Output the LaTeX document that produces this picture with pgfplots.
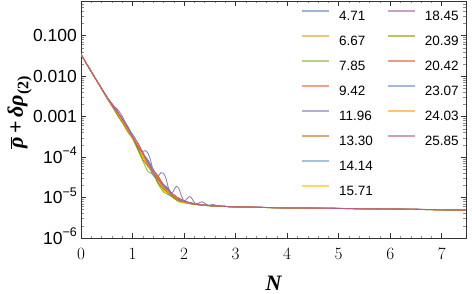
\documentclass[border=0pt]{standalone}
\usepackage{pgfplots}
\pgfplotsset{compat=1.18}
\usepackage{pgfplotstable}
\usepackage{fontspec}
\setmainfont{Liberation Sans}
\newfontfamily\lserif{Liberation Serif}
\definecolor{c1}{HTML}{5E81B5}
\definecolor{c2}{HTML}{E19C24}
\definecolor{c3}{HTML}{8FB032}
\definecolor{c4}{HTML}{EB6235}
\definecolor{c5}{HTML}{8778B3}
\definecolor{c6}{HTML}{C56E1A}
\definecolor{c7}{HTML}{5D9EC7}
\definecolor{c8}{HTML}{FFBF00}
\definecolor{c9}{HTML}{A5609D}
\definecolor{c10}{HTML}{929600}
\definecolor{c11}{HTML}{E95536}
\definecolor{c12}{HTML}{6685D9}
\definecolor{c13}{HTML}{F89F13}
\definecolor{c14}{HTML}{BC5B80}
\pgfplotstableread{
N s1 s2 s3 s4 s6 s7 s8 s9 s10 s11 s12 s13 s14
0.0 3.5e-2 3.5e-2 3.5e-2 3.5e-2 3.5e-2 3.5e-2 3.5e-2 3.5e-2 3.5e-2 3.5e-2 3.5e-2 3.5e-2 3.5e-2
0.1 2.1e-2 2.1e-2 2.1e-2 2.1e-2 2.1e-2 2.1e-2 2.1e-2 2.1e-2 2.1e-2 2.1e-2 2.1e-2 2.1e-2 2.1e-2
0.2 1.29e-2 1.29e-2 1.29e-2 1.29e-2 1.29e-2 1.29e-2 1.29e-2 1.29e-2 1.29e-2 1.29e-2 1.29e-2 1.29e-2 1.29e-2
0.3 7.94e-3 7.94e-3 7.94e-3 7.94e-3 7.94e-3 7.94e-3 7.94e-3 7.94e-3 7.94e-3 7.94e-3 7.94e-3 7.94e-3 7.94e-3
0.4 4.9e-3 4.85e-3 4.8e-3 4.95e-3 4.9e-3 4.85e-3 4.85e-3 5.0e-3 4.8e-3 4.95e-3 4.95e-3 4.9e-3 4.95e-3
0.5 3.02e-3 2.98e-3 2.9e-3 3.08e-3 3.02e-3 2.95e-3 2.98e-3 3.15e-3 2.92e-3 3.05e-3 3.05e-3 3.02e-3 3.08e-3
0.6 2.0e-3 1.905e-3 1.81e-3 2.0e-3 1.905e-3 1.87e-3 1.905e-3 2.10e-3 1.85e-3 2.0e-3 1.94e-3 1.905e-3 1.96e-3
0.7 1.35e-3 1.17e-3 1.11e-3 1.29e-3 1.23e-3 1.13e-3 1.19e-3 1.41e-3 1.17e-3 1.35e-3 1.29e-3 1.25e-3 1.33e-3
0.8 7.94e-4 7.54e-4 7.15e-4 8.73e-4 8.34e-4 7.54e-4 7.94e-4 8.73e-4 7.15e-4 8.34e-4 9.13e-4 7.94e-4 8.89e-4
0.9 4.6e-4 5.26e-4 4.26e-4 5.01e-4 5.51e-4 5.01e-4 4.76e-4 5.26e-4 4.76e-4 4.76e-4 6.01e-4 4.86e-4 5.51e-4
1.0 3.16e-4 3.48e-4 2.84e-4 3.0e-4 3.32e-4 2.91e-4 3.0e-4 3.48e-4 3.16e-4 3.16e-4 3.48e-4 3.32e-4 3.16e-4
1.1 2.1e-4 1.81e-4 1.52e-4 2.0e-4 1.71e-4 1.71e-4 1.905e-4 2.10e-4 1.62e-4 2.29e-4 1.905e-4 2.0e-4 1.81e-4
1.2 1.09e-4 9.8e-5 8.05e-5 1.32e-4 1.09e-4 1.15e-4 1.01e-4 1.21e-4 8.63e-5 1.27e-4 1.21e-4 1.09e-4 1.27e-4
1.3 6.0e-5 7.08e-5 4.39e-5 6.73e-5 8.14e-5 6.37e-5 5.66e-5 7.79e-5 6.02e-5 6.37e-5 8.50e-5 6.73e-5 7.43e-5
1.4 4.8e-5 5.03e-5 3.71e-5 3.93e-5 4.59e-5 3.50e-5 4.15e-5 5.03e-5 4.15e-5 4.59e-5 4.81e-5 4.37e-5 4.15e-5
1.5 3.24e-5 2.82e-5 2.12e-5 3.24e-5 2.40e-5 2.68e-5 2.54e-5 2.96e-5 2.26e-5 3.38e-5 2.68e-5 2.96e-5 2.82e-5
1.6 1.71e-5 1.62e-5 1.37e-5 2.10e-5 1.905e-5 1.81e-5 1.52e-5 2.10e-5 1.62e-5 1.905e-5 2.10e-5 1.81e-5 2.0e-5
1.7 1.24e-5 1.38e-5 1.17e-5 1.27e-5 1.59e-5 1.17e-5 1.24e-5 1.55e-5 1.31e-5 1.31e-5 1.66e-5 1.34e-5 1.45e-5
1.8 1.18e-5 1.18e-5 9.63e-6 1.07e-5 1.02e-5 1.02e-5 1.02e-5 1.12e-5 9.63e-6 1.18e-5 1.07e-5 1.10e-5 1.05e-5
1.9 9.36e-6 8.64e-6 7.84e-6 9.62e-6 8.20e-6 8.91e-6 8.02e-6 9.62e-6 8.20e-6 9.36e-6 8.73e-6 9.09e-6 8.91e-6
2.0 7.54e-6 7.54e-6 7.38e-6 7.94e-6 8.34e-6 7.54e-6 7.38e-6 8.34e-6 7.70e-6 7.78e-6 8.42e-6 7.78e-6 8.10e-6
2.1 7.55e-6 7.48e-6 7.11e-6 7.18e-6 7.48e-6 7.11e-6 7.11e-6 7.55e-6 7.11e-6 7.48e-6 7.55e-6 7.33e-6 7.40e-6
2.2 7.06e-6 7.06e-6 6.71e-6 7.06e-6 6.78e-6 6.92e-6 6.78e-6 7.06e-6 6.78e-6 7.06e-6 6.92e-6 6.92e-6 6.92e-6
2.3 6.61e-6 6.61e-6 6.55e-6 6.75e-6 6.68e-6 6.61e-6 6.55e-6 6.81e-6 6.61e-6 6.68e-6 6.75e-6 6.68e-6 6.68e-6
2.4 6.46e-6 6.40e-6 6.40e-6 6.46e-6 6.52e-6 6.40e-6 6.40e-6 6.52e-6 6.40e-6 6.46e-6 6.52e-6 6.46e-6 6.46e-6
2.5 6.31e-6 6.31e-6 6.25e-6 6.31e-6 6.31e-6 6.25e-6 6.25e-6 6.37e-6 6.25e-6 6.31e-6 6.31e-6 6.31e-6 6.31e-6
2.7 6.10e-6 6.10e-6 6.06e-6 6.12e-6 6.10e-6 6.06e-6 6.06e-6 6.15e-6 6.06e-6 6.10e-6 6.12e-6 6.10e-6 6.10e-6
2.8 6.03e-6 6.03e-6 6.00e-6 6.05e-6 6.03e-6 6.00e-6 6.00e-6 6.07e-6 6.00e-6 6.03e-6 6.05e-6 6.03e-6 6.03e-6
3.0 5.89e-6 5.89e-6 5.86e-6 5.91e-6 5.89e-6 5.86e-6 5.86e-6 5.92e-6 5.86e-6 5.89e-6 5.90e-6 5.89e-6 5.89e-6
4.0 5.55e-6 5.55e-6 5.52e-6 5.57e-6 5.55e-6 5.52e-6 5.52e-6 5.58e-6 5.52e-6 5.55e-6 5.56e-6 5.55e-6 5.55e-6
5.0 5.38e-6 5.38e-6 5.35e-6 5.40e-6 5.38e-6 5.35e-6 5.35e-6 5.41e-6 5.35e-6 5.38e-6 5.39e-6 5.38e-6 5.38e-6
6.0 5.20e-6 5.20e-6 5.17e-6 5.22e-6 5.20e-6 5.17e-6 5.17e-6 5.23e-6 5.17e-6 5.20e-6 5.21e-6 5.20e-6 5.20e-6
7.0 5.00e-6 5.00e-6 4.97e-6 5.02e-6 5.00e-6 4.97e-6 4.97e-6 5.03e-6 4.97e-6 5.00e-6 5.01e-6 5.00e-6 5.00e-6
7.5 4.90e-6 4.90e-6 4.87e-6 4.92e-6 4.90e-6 4.87e-6 4.87e-6 4.93e-6 4.87e-6 4.90e-6 4.91e-6 4.90e-6 4.90e-6
}\maindata
\pgfplotstableread{
N y
0.0 3.5e-2
0.1 2.1e-2
0.2 1.29e-2
0.3 7.94e-3
0.4 4.9e-3
0.5 3.02e-3
0.55 2.52e-3
0.60 2.10e-3
0.65 1.76e-3
0.70 1.54e-3
0.75 1.29e-3
0.80 1.03e-3
0.85 7.57e-4
0.90 5.51e-4
0.95 4.38e-4
1.00 3.63e-4
1.05 2.94e-4
1.10 2.10e-4
1.15 1.48e-4
1.20 1.38e-4
1.25 1.44e-4
1.30 1.24e-4
1.35 8.34e-5
1.40 4.59e-5
1.45 3.30e-5
1.50 3.38e-5
1.55 4.12e-5
1.60 4.0e-5
1.65 2.92e-5
1.70 1.66e-5
1.75 1.20e-5
1.80 1.50e-5
1.85 1.91e-5
1.90 1.65e-5
1.95 1.09e-5
2.00 8.10e-6
2.05 9.11e-6
2.10 1.06e-5
2.15 9.56e-6
2.20 7.47e-6
2.25 6.90e-6
2.30 7.48e-6
2.35 7.87e-6
2.40 7.24e-6
2.45 6.57e-6
2.50 6.50e-6
2.55 6.74e-6
2.60 6.54e-6
2.70 6.22e-6
2.80 6.05e-6
3.0 5.90e-6
4.0 5.56e-6
5.0 5.39e-6
6.0 5.21e-6
7.0 5.01e-6
7.5 4.91e-6
}\purpledata
\newcommand{\supm}[1]{10\raisebox{0.42em}{\fontsize{12.5bp}{12.5bp}\selectfont −#1}}
\begin{document}
\begin{tikzpicture}
\path[use as bounding box] (-81bp,-56bp) rectangle (391bp,238bp);
\begin{axis}[
  at={(0,0)}, anchor=south west,
  scale only axis, width=385bp, height=237bp,
  ymode=log,
  xmin=0, xmax=7.47, ymin=1e-6, ymax=0.72,
  xtick={0,1,2,3,4,5,6,7},
  minor x tick num=4,
  ytick={1e-6,1e-5,1e-4,1e-3,1e-2,1e-1},
  yticklabels={\supm{6},\supm{5},\supm{4},0.001,0.010,0.100},
  minor ytick={2e-6,3e-6,4e-6,5e-6,6e-6,7e-6,8e-6,9e-6,2e-5,3e-5,4e-5,5e-5,6e-5,7e-5,8e-5,9e-5,2e-4,3e-4,4e-4,5e-4,6e-4,7e-4,8e-4,9e-4,2e-3,3e-3,4e-3,5e-3,6e-3,7e-3,8e-3,9e-3,2e-2,3e-2,4e-2,5e-2,6e-2,7e-2,8e-2,9e-2,2e-1,3e-1,4e-1,5e-1,6e-1,7e-1},
  tick align=inside,
  major tick length=5bp, minor tick length=2.5bp,
  every tick/.style={black!80, line width=0.6bp},
  every minor tick/.style={black!45, line width=0.5bp},
  axis line style={black!80, line width=0.9bp},
  tick label style={font=\fontsize{17.5bp}{20bp}\selectfont},
  xticklabel style={anchor=base, inner sep=0pt, yshift=-21.5bp},
  yticklabel style={anchor=base east, inner sep=0pt, xshift=-4bp, yshift=-6.2bp},
  xlabel={\lserif\bfseries\itshape N},
  xlabel style={at={(axis description cs:0.5,0)}, anchor=base, inner sep=0pt, yshift=-52.5bp, font=\fontsize{22bp}{24bp}\selectfont},
  ylabel={\lserif\bfseries $\overline{\hbox{\itshape ρ}}$\,+\,{\itshape δρ}\raisebox{-0.25em}{\fontsize{16bp}{16bp}\selectfont(2)}},
  ylabel style={at={(axis description cs:0,0.53)}, anchor=south, inner sep=0pt, yshift=49bp, font=\fontsize{22bp}{24bp}\selectfont},
  every axis plot/.append style={line width=0.8bp, smooth, tension=0.45, forget plot},
  legend style={draw=none, fill=none, at={(0.571,0.964)}, anchor=north west, inner sep=0pt,
    font=\fontsize{13.5bp}{15bp}\selectfont,
    nodes={inner sep=0pt, text height=10bp, text depth=0bp},
    row sep=14bp,
    /tikz/every odd column/.append style={column sep=9bp},
    /tikz/every even column/.append style={column sep=14bp}},
  legend cell align=left,
  legend columns=2,
  legend image code/.code={\draw[#1, line width=2bp, opacity=0.6] (0bp,5bp) -- (27bp,5bp);},
]
\addplot[c1] table[x=N,y=s1]{\maindata};
\addplot[c2] table[x=N,y=s2]{\maindata};
\addplot[c3] table[x=N,y=s3]{\maindata};
\addplot[c4] table[x=N,y=s4]{\maindata};
\addplot[c5] table[x=N,y=y]{\purpledata};
\addplot[c6] table[x=N,y=s6]{\maindata};
\addplot[c7] table[x=N,y=s7]{\maindata};
\addplot[c8] table[x=N,y=s8]{\maindata};
\addplot[c9] table[x=N,y=s9]{\maindata};
\addplot[c10] table[x=N,y=s10]{\maindata};
\addplot[c11] table[x=N,y=s11]{\maindata};
\addplot[c12] table[x=N,y=s12]{\maindata};
\addplot[c13] table[x=N,y=s13]{\maindata};
\addplot[c14] table[x=N,y=s14]{\maindata};
\addlegendimage{c1}\addlegendentry{4.71}
\addlegendimage{c9}\addlegendentry{18.45}
\addlegendimage{c2}\addlegendentry{6.67}
\addlegendimage{c10}\addlegendentry{20.39}
\addlegendimage{c3}\addlegendentry{7.85}
\addlegendimage{c11}\addlegendentry{20.42}
\addlegendimage{c4}\addlegendentry{9.42}
\addlegendimage{c12}\addlegendentry{23.07}
\addlegendimage{c5}\addlegendentry{11.96}
\addlegendimage{c13}\addlegendentry{24.03}
\addlegendimage{c6}\addlegendentry{13.30}
\addlegendimage{c14}\addlegendentry{25.85}
\addlegendimage{c7}\addlegendentry{14.14}
\addlegendimage{white, opacity=0}\addlegendentry{}
\addlegendimage{c8}\addlegendentry{15.71}
\end{axis}
\end{tikzpicture}
\end{document}
